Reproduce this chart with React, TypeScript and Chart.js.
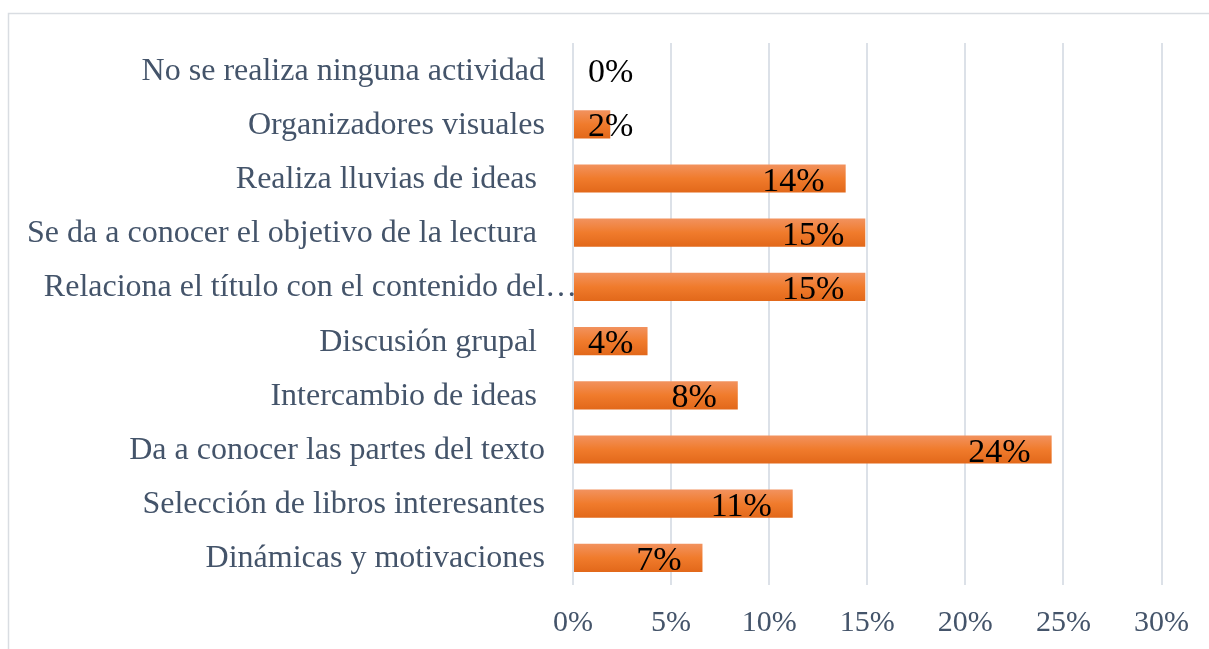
import React, { useEffect, useRef } from "react";
import { Chart, registerables } from "chart.js";

Chart.register(...registerables);

const categories = [
  "No se realiza ninguna actividad",
  "Organizadores visuales",
  "Realiza lluvias de ideas ",
  "Se da a conocer el objetivo de la lectura ",
  "Relaciona el título con el contenido del…",
  "Discusión grupal ",
  "Intercambio de ideas ",
  "Da a conocer las partes del texto",
  "Selección de libros interesantes",
  "Dinámicas y motivaciones",
];
const values = [0, 1.9, 13.9, 14.9, 14.9, 3.8, 8.4, 24.4, 11.2, 6.6];
const valueLabels = ["0%", "2%", "14%", "15%", "15%", "4%", "8%", "24%", "11%", "7%"];
const xTicks = [0, 5, 10, 15, 20, 25, 30];

const FONT = "'Liberation Serif', 'Times New Roman', serif";
const TICK_COLOR = "#44546A";

const categoryLabelPlugin = {
  id: "categoryLabels",
  afterDraw(chart: any) {
    const ctx = chart.ctx;
    const y = chart.scales.y;
    const x = chart.scales.x;
    ctx.save();
    ctx.font = `32px ${FONT}`;
    ctx.fillStyle = TICK_COLOR;
    ctx.textAlign = "right";
    ctx.textBaseline = "middle";
    const rightX = x.left - 28;
    categories.forEach((c, i) => {
      const py = y.getPixelForValue(i) + 1;
      if (c.endsWith("…")) {
        const e = ctx.measureText("…").width;
        ctx.fillText(c, rightX + e, py);
      } else {
        ctx.fillText(c, rightX, py);
      }
    });
    ctx.restore();
  },
};

const valueLabelPlugin = {
  id: "valueLabels",
  afterDatasetsDraw(chart: any) {
    const ctx = chart.ctx;
    const meta = chart.getDatasetMeta(0);
    const x = chart.scales.x;
    ctx.save();
    ctx.font = `34px ${FONT}`;
    ctx.fillStyle = "#000000";
    ctx.textAlign = "left";
    ctx.textBaseline = "alphabetic";
    meta.data.forEach((bar: any, i: number) => {
      const txt = valueLabels[i];
      const w = ctx.measureText(txt).width;
      const left = Math.max(bar.x - 21 - w, x.getPixelForValue(0) + 15);
      ctx.fillText(txt, left, bar.y + 12);
    });
    ctx.restore();
  },
};

const framePlugin = {
  id: "frame",
  beforeDraw(chart: any) {
    const ctx = chart.ctx;
    ctx.save();
    ctx.fillStyle = "#ffffff";
    ctx.fillRect(0, 0, chart.width, chart.height);
    ctx.strokeStyle = "#D9DDE2";
    ctx.lineWidth = 1.5;
    ctx.beginPath();
    ctx.moveTo(8.5, chart.height + 2);
    ctx.lineTo(8.5, 13.5);
    ctx.lineTo(chart.width + 2, 13.5);
    ctx.stroke();
    ctx.restore();
  },
};

export default function App() {
  const ref = useRef<HTMLCanvasElement>(null);
  useEffect(() => {
    const canvas = ref.current!;
    const chart = new Chart(canvas, {
      type: "bar",
      data: {
        labels: categories,
        datasets: [
          {
            data: values,
            backgroundColor: (c: any) => {
              const ys = c.chart.scales && c.chart.scales.y;
              if (!ys || c.dataIndex === undefined) return "#F07A2A";
              const cy = ys.getPixelForValue(c.dataIndex);
              if (!Number.isFinite(cy)) return "#F07A2A";
              const h = 14;
              const g = c.chart.ctx.createLinearGradient(0, cy - h, 0, cy + h);
              g.addColorStop(0, "#F2925E");
              g.addColorStop(0.5, "#F07B2C");
              g.addColorStop(1, "#E2681A");
              return g;
            },
            borderWidth: 0,
            barPercentage: 0.52,
            categoryPercentage: 1,
          },
        ],
      },
      options: {
        indexAxis: "y",
        responsive: false,
        animation: false,
        layout: { padding: { left: 0, right: 46, top: 43, bottom: 0 } },
        plugins: {
          legend: { display: false },
          tooltip: { enabled: false },
        },
        scales: {
          x: {
            min: 0,
            max: 30,
            afterBuildTicks: (s: any) => {
              s.ticks = xTicks.map((v) => ({ value: v }));
            },
            afterFit: (s: any) => {
              s.height = 64;
            },
            grid: { color: "#DCE1E8", lineWidth: 2, drawTicks: false },
            border: { display: false },
            ticks: {
              padding: 20,
              color: TICK_COLOR,
              font: { family: FONT, size: 30 },
              callback: (v: any) => `${v}%`,
            },
          },
          y: {
            afterFit: (s: any) => {
              s.width = 573;
            },
            grid: { display: false, drawTicks: false },
            border: { display: false },
            ticks: { display: false },
          },
        },
      },
      plugins: [framePlugin, categoryLabelPlugin, valueLabelPlugin],
    });
    return () => chart.destroy();
  }, []);
  return (
    <canvas
      ref={ref}
      width={1209}
      height={649}
      style={{ position: "fixed", left: 0, top: 0, width: 1209, height: 649 }}
    />
  );
}
